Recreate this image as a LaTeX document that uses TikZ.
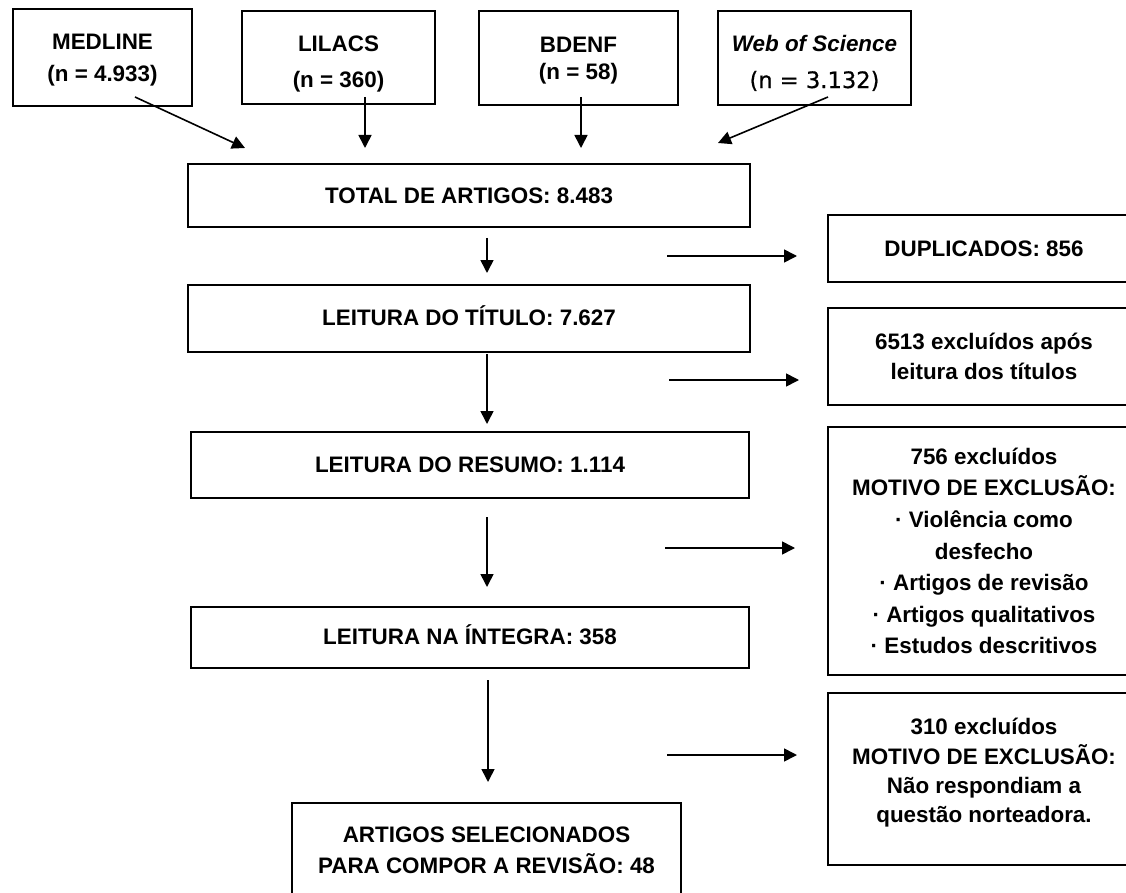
\documentclass[tikz,border=0pt]{standalone}
\usepackage{fontspec}
\setmainfont{Liberation Sans}
\newfontfamily\dvs[FakeBold=0.6]{DejaVu Sans}
\usetikzlibrary{arrows.meta}
\newcommand{\upstrut}[1]{\rule{0pt}{#1}}
\begin{document}
\begin{tikzpicture}[x=1pt,y=-1pt,
  box/.style={draw, line width=1.9pt, inner sep=0pt, align=center,
    font=\fontsize{22.4}{31}\selectfont\bfseries},
  arr/.style={line width=1.6pt, -{Triangle[length=13pt,width=13pt]}},
]
\useasboundingbox (0,0) rectangle (1126,893);
\clip (0,0) rectangle (1126,893);
% source boxes
\node[box, minimum width=179, minimum height=97] (med) at (102.5,57.5) {\upstrut{20pt}MEDLINE\\[1pt](n = 4.933)};
\node[box, minimum width=193, minimum height=93] (lil) at (338.5,57.5) {\upstrut{28pt}LILACS\\[5pt](n = 360)};
\node[box, minimum width=199, minimum height=94] (bde) at (578.5,58) {\upstrut{20pt}BDENF\\[-4pt](n = 58)};
\node[box, minimum width=193, minimum height=94] (wos) at (814.5,58) {\upstrut{26pt}\itshape Web of Science\\[6pt]{\dvs\fontsize{22.6}{26}\selectfont\mdseries\upshape (n = 3.132)}};
% main column
\node[box, minimum width=562, minimum height=63] (tot) at (469,195.5) {TOTAL DE ARTIGOS: 8.483};
\node[box, minimum width=562, minimum height=67, text height=15pt] (tit) at (469,318.5) {LEITURA DO TÍTULO: 7.627};
\node[box, minimum width=558, minimum height=66] (res) at (470,465) {LEITURA DO RESUMO: 1.114};
\node[box, minimum width=558, minimum height=61, text height=15pt] (int) at (470,637.5) {LEITURA NA ÍNTEGRA: 358};
\node[box, minimum width=389, minimum height=94, anchor=north] (sel) at (486.5,802) {ARTIGOS SELECIONADOS\\PARA COMPOR A REVISÃO: 48};
% right column
\node[box, minimum width=312, minimum height=67] (dup) at (984,248.5) {DUPLICADOS: 856};
\node[box, minimum width=312, minimum height=97] (exc1) at (984,356.5) {6513 excluídos após\\[-1pt]leitura dos títulos};
\node[box, minimum width=312, minimum height=248] (exc2) at (984,551) {756 excluídos\\[0.6pt]MOTIVO DE EXCLUSÃO:\\[0.6pt]· Violência como\\[0.6pt]desfecho\\[0.6pt]· Artigos de revisão\\[0.6pt]· Artigos qualitativos\\[0.6pt]· Estudos descritivos};
\node[box, minimum width=312, minimum height=172, text depth=16.5pt] (exc3) at (984,779) {310 excluídos\\[-1pt]MOTIVO DE EXCLUSÃO:\\[-2pt]Não respondiam a\\[-2pt]questão norteadora.};
% connector end points
\coordinate (medS) at (135,97);  \coordinate (medE) at (245,148);
\coordinate (lilS) at (365,97);  \coordinate (lilE) at (365,148);
\coordinate (bdeS) at (581,97);  \coordinate (bdeE) at (581,148);
\coordinate (wosS) at (828,97);  \coordinate (wosE) at (718,143);
\coordinate (d1S) at (487,238); \coordinate (d1E) at (487,273);
\coordinate (d2S) at (487,354); \coordinate (d2E) at (487,424);
\coordinate (d3S) at (487,517); \coordinate (d3E) at (487,587);
\coordinate (d4S) at (488,680); \coordinate (d4E) at (488,782);
\coordinate (r1S) at (667,256); \coordinate (r1E) at (797,256);
\coordinate (r2S) at (669,380); \coordinate (r2E) at (799,380);
\coordinate (r3S) at (665,548); \coordinate (r3E) at (795,548);
\coordinate (r4S) at (667,755); \coordinate (r4E) at (797,755);
\foreach \a in {med,lil,bde,wos,d1,d2,d3,d4,r1,r2,r3,r4}
  \draw[arr] (\a S) -- (\a E);
\end{tikzpicture}
\end{document}
